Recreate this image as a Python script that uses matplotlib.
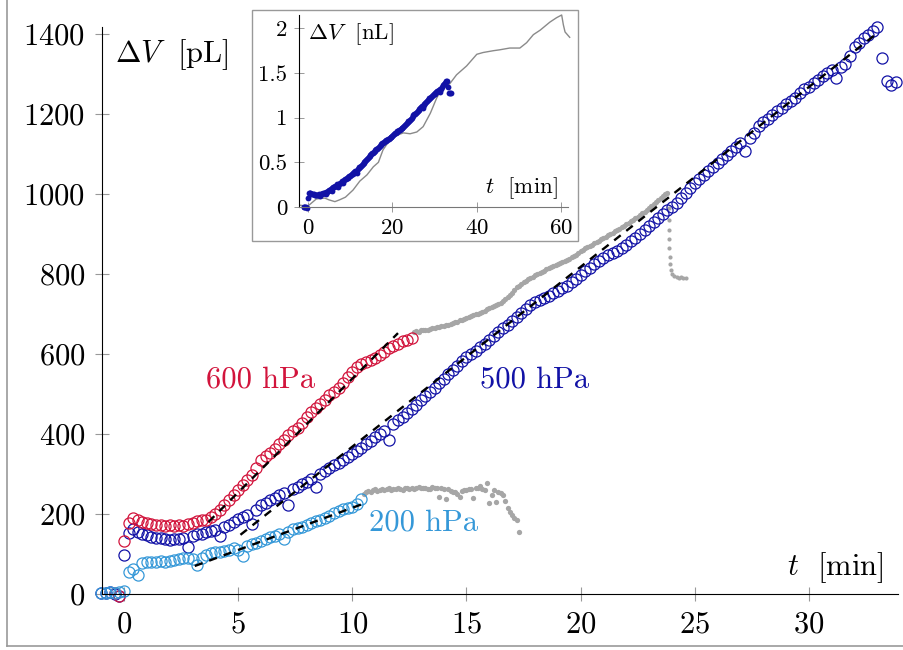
import numpy as np
import matplotlib
matplotlib.use('Agg')
import matplotlib.pyplot as plt
from matplotlib.patches import Rectangle
from matplotlib.lines import Line2D

plt.rcParams['font.family'] = 'serif'
plt.rcParams['font.serif'] = ['cmr10']
plt.rcParams['mathtext.fontset'] = 'cm'
plt.rcParams['axes.formatter.use_mathtext'] = True

# --- data (delta V in pL, sampled every dt minutes from t0) ---
t0_500, dt_500 = -1.0, 0.2
v_500 = [3, 2, 4, 1, -6, 97, 152, 162, 156, 150,
         147, 143, 140, 139, 137, 136, 138, 137, 140, 118,
         146, 149, 151, 155, 157, 160, 146, 168, 173, 180,
         188, 193, 198, 176, 210, 222, 228, 234, 240, 247,
         252, 222, 262, 268, 274, 281, 288, 268, 300, 308,
         316, 322, 328, 336, 342, 350, 358, 366, 375, 383,
         392, 400, 408, 386, 424, 434, 443, 452, 462, 472,
         484, 494, 505, 516, 527, 538, 549, 560, 571, 582,
         592, 600, 608, 617, 626, 636, 645, 655, 664, 673,
         683, 693, 703, 713, 722, 730, 735, 740, 745, 752,
         758, 764, 770, 779, 788, 797, 806, 815, 824, 833,
         840, 846, 852, 858, 864, 872, 881, 890, 900, 910,
         919, 929, 940, 950, 960, 968, 977, 989, 1001, 1014,
         1027, 1037, 1047, 1057, 1067, 1078, 1088, 1098, 1108, 1118,
         1127, 1108, 1140, 1152, 1170, 1180, 1188, 1197, 1206, 1215,
         1224, 1232, 1240, 1252, 1262, 1268, 1277, 1285, 1294, 1302,
         1310, 1290, 1318, 1325, 1345, 1368, 1378, 1390, 1398, 1406,
         1416, 1340, 1282, 1272, 1280]

t0_600, dt_600 = -0.4, 0.2
v_600 = [2, -5, 132, 178, 190, 184, 180, 177, 175, 173,
         172, 170, 172, 170, 173, 171, 176, 178, 182, 184,
         186, 192, 200, 210, 222, 236, 248, 260, 272, 285,
         298, 314, 336, 344, 352, 362, 374, 386, 398, 407,
         415, 428, 442, 456, 465, 474, 486, 497, 505, 515,
         528, 542, 555, 567, 576, 580, 584, 590, 598, 606,
         614, 620, 626, 632, 636, 641]

t0_200, dt_200 = -1.0, 0.2
v_200 = [3, 2, 5, 3, 4, 8, 55, 62, 48, 78,
         80, 80, 81, 82, 80, 83, 86, 88, 90, 91,
         88, 72, 90, 97, 102, 104, 106, 108, 110, 114,
         110, 96, 120, 124, 128, 133, 138, 142, 146, 150,
         138, 156, 162, 166, 168, 172, 178, 182, 186, 190,
         196, 203, 208, 212, 215, 218, 224, 238]

# grey: raw data beyond the evaluated range
t0_g600, dt_g600 = 12.7, 0.1
v_g600 = [655, 657, 656, 659, 660, 661, 660, 663, 665, 664,
          667, 668, 670, 671, 673, 672, 676, 678, 680, 681,
          684, 686, 688, 690, 692, 695, 697, 699, 701, 703,
          705, 708, 711, 714, 717, 719, 722, 725, 728, 732,
          736, 741, 746, 752, 760, 766, 770, 775, 779, 783,
          787, 790, 793, 796, 799, 802, 805, 808, 811, 814,
          817, 820, 822, 825, 828, 830, 833, 835, 838, 841,
          844, 848, 852, 856, 860, 864, 867, 870, 873, 876,
          880, 883, 886, 889, 893, 897, 900, 903, 906, 910,
          913, 917, 920, 924, 928, 931, 935, 939, 943, 947,
          951, 955, 960, 965, 970, 975, 980, 985, 990, 995,
          999, 1003]
drop_t = [23.85, 23.86, 23.87, 23.88, 23.89, 23.9, 23.92, 23.95, 24.0,
          24.1, 24.2, 24.3, 24.4, 24.5, 24.6]
drop_v = [965, 935, 910, 888, 865, 843, 825, 810, 800,
          795, 793, 790, 792, 789, 790]

t0_g200, dt_g200 = 10.5, 0.1
v_g200 = [250, 255, 258, 256, 260, 262, 258, 261, 263, 260,
          262, 264, 261, 263, 262, 265, 263, 261, 264, 266,
          263, 264, 262, 265, 267, 264, 266, 265, 263, 262,
          268, 266, 264, 243, 266, 263, 238, 263, 258, 256,
          254, 250, 243, 257, 259, 261, 263, 262, 240, 264,
          266, 270, 262, 260, 278, 228, 247, 259, 230, 255,
          253, 248, 232, 215, 205, 197, 190, 185, 155]

# linear fits (start/end)
fit_t = {'600': [3.7, 12.0], '500': [5.1, 33.0], '200': [3.1, 10.45]}
fit_v = {'600': [180, 652], '500': [148, 1402], '200': [70, 225]}

# inset: long run, nL
ins_t = [-1.9, 0, 2, 4, 5, 6.4, 7.5, 8.9, 10.7, 12.3, 14, 15.5, 16.7, 17.8,
         19.4, 21, 22.6, 24.2, 25.8, 27.3, 29, 30.5, 31.7, 33.6, 35.2, 37.6,
         40, 41.5, 43.9, 45.4, 47.8, 50.2, 51.8, 53.4, 55, 57.3, 58.9, 60.1,
         60.5, 60.9, 62]
ins_v = [0.02, 0.01, 0.09, 0.1, 0.08, 0.06, 0.08, 0.11, 0.19, 0.29, 0.36,
         0.45, 0.5, 0.64, 0.75, 0.8, 0.83, 0.82, 0.84, 0.9, 1.05, 1.22, 1.32,
         1.38, 1.48, 1.58, 1.71, 1.73, 1.75, 1.76, 1.78, 1.78, 1.84, 1.93,
         1.98, 2.07, 2.12, 2.15, 2.04, 1.96, 1.9]

red = '#d2143c'
dblue = '#1212a6'
lblue = '#3598d8'
grey = '#a6a6a6'


def times(t0, dt, v):
    return t0 + dt * np.arange(len(v))


fig = plt.figure(figsize=(9.04, 6.5), dpi=100)
ax = fig.add_axes([102/904, 56/650, 796/904, 567/650])
ax.set_xlim(-0.964, 33.9)
ax.set_ylim(0, 1417)

ms = 8.0
gms = 3.8
ax.plot(times(t0_g600, dt_g600, v_g600), v_g600, 'o', color=grey, ms=gms, mew=0, clip_on=False)
ax.plot(drop_t, drop_v, 'o', color=grey, ms=3.0, mew=0, clip_on=False)
ax.plot(times(t0_g200, dt_g200, v_g200), v_g200, 'o', color=grey, ms=gms, mew=0, clip_on=False)
ax.plot(times(t0_500, dt_500, v_500), v_500, 'o', mfc='none', mec=dblue, ms=ms, mew=0.9, clip_on=False)
ax.plot(times(t0_600, dt_600, v_600), v_600, 'o', mfc='none', mec=red, ms=ms, mew=0.9, clip_on=False)
ax.plot(times(t0_200, dt_200, v_200), v_200, 'o', mfc='none', mec=lblue, ms=ms, mew=0.9, clip_on=False)
for k in fit_t:
    ax.plot(fit_t[k], fit_v[k], '--', color='black', lw=1.7, dashes=(3.5, 3))

ax.spines['top'].set_visible(False)
ax.spines['right'].set_visible(False)
ax.set_xticks([0, 5, 10, 15, 20, 25, 30])
ax.set_yticks(range(0, 1401, 200))
ax.tick_params(direction='inout', length=10, width=0.8, color='#999999',
               labelsize=22, pad=7)

ax.text(-0.4, 1347, r'$\Delta V\ $ [pL]', fontsize=22, ha='left', va='center')
ax.text(33.25, 67, r'$t\ $ [min]', fontsize=22, ha='right', va='center')
ax.text(5.96, 535, '600 hPa', color=red, fontsize=22, ha='center', va='center')
ax.text(18.0, 535, '500 hPa', color=dblue, fontsize=22, ha='center', va='center')
ax.text(13.1, 178, '200 hPa', color=lblue, fontsize=22, ha='center', va='center')

# inset frame
box = Rectangle((252/904, 409/650), 326/904, 231/650, transform=fig.transFigure,
                facecolor='white', edgecolor='#999999', lw=1.0, zorder=2)
fig.add_artist(box)

ins = fig.add_axes([299/904, 443/650, 269/904, 192/650], zorder=3)
ins.patch.set_alpha(0)
ins.set_xlim(-2.1, 61.6)
ins.set_ylim(0, 2.15)
ins.plot(ins_t, ins_v, color='#8a8a8a', lw=1.0, clip_on=False)
ins.plot(times(t0_500, dt_500, v_500), np.array(v_500) / 1000.0, 'o',
         color=dblue, ms=4.2, mew=0, clip_on=False)
ins.spines['top'].set_visible(False)
ins.spines['right'].set_visible(False)
ins.spines['bottom'].set_color('#777777')
ins.set_xticks([0, 20, 40, 60])
ins.set_yticks([0, 0.5, 1, 1.5, 2])
ins.set_yticklabels(['0', '0.5', '1', '1.5', '2'])
ins.tick_params(direction='inout', length=7, width=0.7, color='#999999',
                labelsize=16.5, pad=5)
ins.text(0, 1.94, r'$\Delta V\ $ [nL]', fontsize=16.5, ha='left', va='center')
ins.text(59.2, 0.21, r'$t\ $ [min]', fontsize=16.5, ha='right', va='center')

# outer frame edges
fig.add_artist(Line2D([7/904, 7/904], [4/650, 1], transform=fig.transFigure, color='#999999', lw=1.2))
fig.add_artist(Line2D([7/904, 1], [4/650, 4/650], transform=fig.transFigure, color='#999999', lw=1.2))

fig.savefig('out.png', dpi=100)
